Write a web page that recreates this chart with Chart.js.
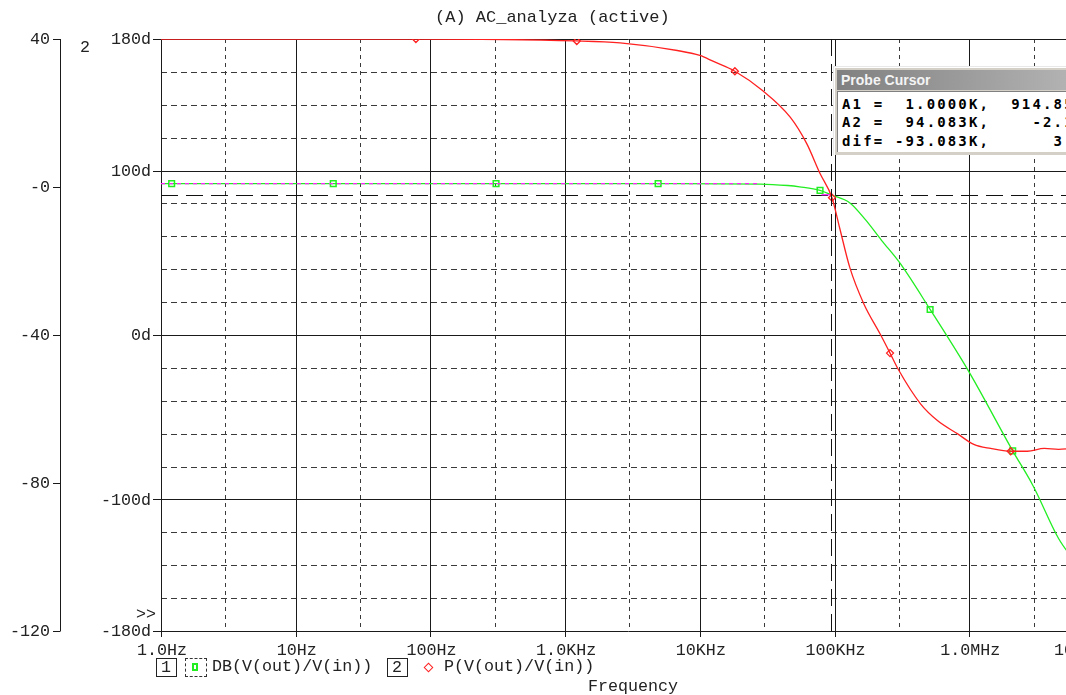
<!DOCTYPE html>
<html><head><meta charset="utf-8">
<script src="https://cdn.jsdelivr.net/npm/chart.js@4.4.1/dist/chart.umd.min.js"></script>
<style>
html,body{margin:0;padding:0;background:#fff;overflow:hidden;}
#wrap{position:relative;width:1066px;height:695px;overflow:hidden;background:#fff;}
#c{position:absolute;left:0;top:0;}
.t{position:absolute;font-family:"Liberation Mono",monospace;font-size:16.7px;color:#222;white-space:pre;line-height:18px;}
.box{position:absolute;border:1px solid #222;box-sizing:border-box;}
#probe{position:absolute;left:833px;top:66px;width:260px;height:88px;background:#d4d0c8;border-left:1px solid #e8e8e8;border-top:1px solid #e8e8e8;box-shadow:inset 1px 1px 0 #fff;}
#ptitle{position:absolute;left:3px;top:3px;right:0;height:20px;background:linear-gradient(to right,#808080,#b8b8b8);color:#f4f4f4;font-family:"Liberation Sans",sans-serif;font-weight:bold;font-size:14px;line-height:20px;padding-left:4px;}
#pbody{position:absolute;left:3px;top:24px;right:0;bottom:3px;background:#fff;border-left:1px solid #808080;border-top:1px solid #808080;}
.prow{position:absolute;left:4px;font-family:"DejaVu Sans Mono",monospace;font-weight:bold;font-size:14px;letter-spacing:2.15px;color:#000;white-space:pre;line-height:16px;}
</style></head>
<body>
<div id="wrap">
<canvas id="c" width="1120" height="695"></canvas>
<div class="t" style="left:435px;top:9px;font-size:17px;">(A) AC_analyza (active)</div>
<div class="box" style="left:156px;top:658px;width:21px;height:19px;"><div class="t" style="left:4px;top:0px;">1</div></div>
<div class="box" style="left:185px;top:658px;width:22px;height:19px;border:1px dashed #333;"><div style="position:absolute;left:6px;top:4px;width:6px;height:8px;border:2px solid #22ee22;box-sizing:border-box;"></div></div>
<div class="t" style="left:212px;top:658px;">DB(V(out)/V(in))</div>
<div class="box" style="left:387px;top:658px;width:21px;height:19px;"><div class="t" style="left:4px;top:0px;">2</div></div>
<div style="position:absolute;left:425px;top:664px;width:5px;height:5px;border:1.5px solid #ff2020;transform:rotate(45deg);"></div>
<div class="t" style="left:444px;top:658px;">P(V(out)/V(in))</div>
<div class="t" style="left:588px;top:678px;">Frequency</div>
<div id="probe">
  <div id="ptitle">Probe Cursor</div>
  <div id="pbody">
    <div class="prow" style="top:4px;">A1 =  1.0000K,  914.855m</div>
    <div class="prow" style="top:22px;">A2 =  94.083K,    -2.1024</div>
    <div class="prow" style="top:41px;">dif= -93.083K,      3.0165</div>
  </div>
</div>
</div>
<script>
// ---- data ----
const dbFreq   = [1, 1.2, 19, 307, 4900, 28000, 45000, 55000, 78000, 94083, 130000, 170000, 223000, 306000, 512000, 1000000, 2100000, 2980000, 4600000, 6000000];
const dbValues = [0.915, 0.915, 0.915, 0.915, 0.915, 0.8, 0.4, 0.05, -0.9, -2.1, -4.3, -8.9, -14.4, -20.6, -33.1, -50.1, -71.3, -80.8, -95, -101];
const dbMarkers = [1.2, 19, 307, 4900, 78000, 512000, 2100000];

const phFreq   = [1, 78, 1220, 2560, 6800, 10000, 12500, 18200, 29000, 47000, 62000, 78000, 95700, 109000, 130000, 165000, 218000, 258000, 296000, 436000, 580000, 815000, 1080000, 1440000, 2030000, 2700000, 3600000, 4600000, 6000000, 10000000];
const phValues = [180, 180, 178.8, 177.6, 173, 170, 166.5, 160.4, 148.8, 132.3, 116.5, 98.2, 83.5, 65.2, 40.8, 18.9, 0.6, -11, -20.7, -42, -52, -60, -66.5, -69, -70.7, -70.7, -69, -69.5, -69, -69];
const phMarkers = [78, 1220, 18200, 95700, 258000, 2030000];

const selFreq   = [1, 28000];
const selValues = [0.915, 0.915];
const selSegFreq   = [80000, 94083];
const selSegValues = [-2.1, -2.1];

const cursorFreq = 94083;
const cursorDb = -2.1;

const xTickValues = [1, 10, 100, 1e3, 1e4, 1e5, 1e6, 1e7];
const xTickLabels = ['1.0Hz', '10Hz', '100Hz', '1.0KHz', '10KHz', '100KHz', '1.0MHz', '10MHz'];
const xMinorValues = [3, 30, 300, 3e3, 3e4, 3e5, 3e6];
const phTickValues = [180, 100, 0, -100, -180];
const phTickLabels = ['180d', '100d', '0d', '-100d', '-180d'];
const phGridStep = 20;
const dbTickValues = [40, 0, -40, -80, -120];
const dbTickLabels = ['40', '-0', '-40', '-80', '-120'];

const GREEN = '#22ee22', RED = '#ff2020', MAG = '#ff22ff';
const FONT = '16.7px "Liberation Mono", monospace';

function pts(fs, vs) { return fs.map((f, i) => ({x: f, y: vs[i]})); }

const overlay = {
  id: 'overlay',
  beforeDatasetsDraw(chart) {
    const {ctx, chartArea: a, scales} = chart;
    const X = scales.x, P = scales.ph, D = scales.db;
    const r = v => Math.round(v) + 0.5;
    const line = (x1, y1, x2, y2) => { ctx.beginPath(); ctx.moveTo(x1, y1); ctx.lineTo(x2, y2); ctx.stroke(); };
    ctx.save();
    ctx.lineWidth = 1;
    ctx.strokeStyle = '#3a3a3a';
    ctx.setLineDash([6, 4]);
    for (let v = -180 + phGridStep; v < 180; v += phGridStep) {
      if (phTickValues.includes(v)) continue;
      const y = r(P.getPixelForValue(v));
      line(a.left, y, a.right, y);
    }
    ctx.setLineDash([4, 4]);
    xMinorValues.forEach(v => { const x = r(X.getPixelForValue(v)); line(x, a.top, x, a.bottom); });
    ctx.setLineDash([]);
    ctx.strokeStyle = '#1a1a1a';
    phTickValues.forEach(v => { const y = r(P.getPixelForValue(v)); line(a.left - 8, y, a.right, y); });
    xTickValues.forEach(v => { const x = r(X.getPixelForValue(v)); line(x, a.top, x, a.bottom + 6); });
    line(r(a.left), a.top, r(a.left), a.bottom);
    const ox = 60.5;
    line(ox, D.getPixelForValue(40), ox, D.getPixelForValue(-120));
    dbTickValues.forEach(v => { const y = r(D.getPixelForValue(v)); line(53, y, ox, y); });
    ctx.fillStyle = '#222';
    ctx.font = FONT;
    ctx.textBaseline = 'middle';
    ctx.textAlign = 'right';
    dbTickValues.forEach((v, i) => ctx.fillText(dbTickLabels[i], 50, D.getPixelForValue(v) + 1));
    phTickValues.forEach((v, i) => ctx.fillText(phTickLabels[i], 151, P.getPixelForValue(v) + 1));
    xTickValues.forEach((v, i) => {
      const x = X.getPixelForValue(v);
      const w = ctx.measureText(xTickLabels[i]).width;
      if (x + w / 2 > a.right) { ctx.textAlign = 'right'; ctx.fillText(xTickLabels[i], a.right, 651); }
      else { ctx.textAlign = 'center'; ctx.fillText(xTickLabels[i], x + 1, 651); }
    });
    ctx.textAlign = 'center';
    ctx.fillText('2', 85, 48);
    ctx.fillText('>>', 146, 615);
    ctx.strokeStyle = '#111';
    ctx.setLineDash([17, 8]);
    const cy = r(D.getPixelForValue(cursorDb));
    line(a.left, cy, a.right, cy);
    ctx.restore();
  },
  afterDatasetsDraw(chart) {
    const {ctx, chartArea: a, scales} = chart;
    ctx.save();
    ctx.strokeStyle = '#111';
    ctx.lineWidth = 1;
    ctx.setLineDash([17, 8]);
    const cx = Math.round(scales.x.getPixelForValue(cursorFreq)) + 0.5;
    ctx.beginPath(); ctx.moveTo(cx, a.top); ctx.lineTo(cx, a.bottom); ctx.stroke();
    ctx.restore();
  }
};

new Chart(document.getElementById('c'), {
  type: 'line',
  data: {
    datasets: [
      {
        label: 'DB(V(out)/V(in))', data: pts(dbFreq, dbValues), yAxisID: 'db',
        borderColor: GREEN, borderWidth: 1.3, cubicInterpolationMode: 'monotone',
        pointStyle: 'rect', pointRadius: dbFreq.map(f => dbMarkers.includes(f) ? 4 : 0),
        pointBorderColor: GREEN, pointBackgroundColor: 'rgba(0,0,0,0)', pointBorderWidth: 1.5, order: 3
      },
      {
        label: 'sel', data: pts(selFreq, selValues), yAxisID: 'db',
        borderColor: MAG, borderWidth: 1.3, borderDash: [4, 4], pointRadius: 0, order: 2
      },
      {
        label: 'selseg', data: pts(selSegFreq, selSegValues), yAxisID: 'db',
        borderColor: MAG, borderWidth: 1.3, pointRadius: 0, order: 2
      },
      {
        label: 'P(V(out)/V(in))', data: pts(phFreq, phValues), yAxisID: 'ph',
        borderColor: RED, borderWidth: 1.3, cubicInterpolationMode: 'monotone',
        pointStyle: 'rectRot', pointRadius: phFreq.map(f => phMarkers.includes(f) ? 3.5 : 0),
        pointBorderColor: RED, pointBackgroundColor: 'rgba(0,0,0,0)', pointBorderWidth: 1.3, order: 1
      }
    ]
  },
  options: {
    responsive: false, animation: false,
    layout: {padding: {left: 161, right: 16, top: 39, bottom: 64}},
    plugins: {legend: {display: false}, tooltip: {enabled: false}},
    scales: {
      x: {type: 'logarithmic', min: 1, max: 1e7, display: false},
      db: {type: 'linear', min: -120, max: 40, display: false, position: 'left'},
      ph: {type: 'linear', min: -180, max: 180, display: false, position: 'left'}
    }
  },
  plugins: [overlay]
});
</script>
</body></html>
